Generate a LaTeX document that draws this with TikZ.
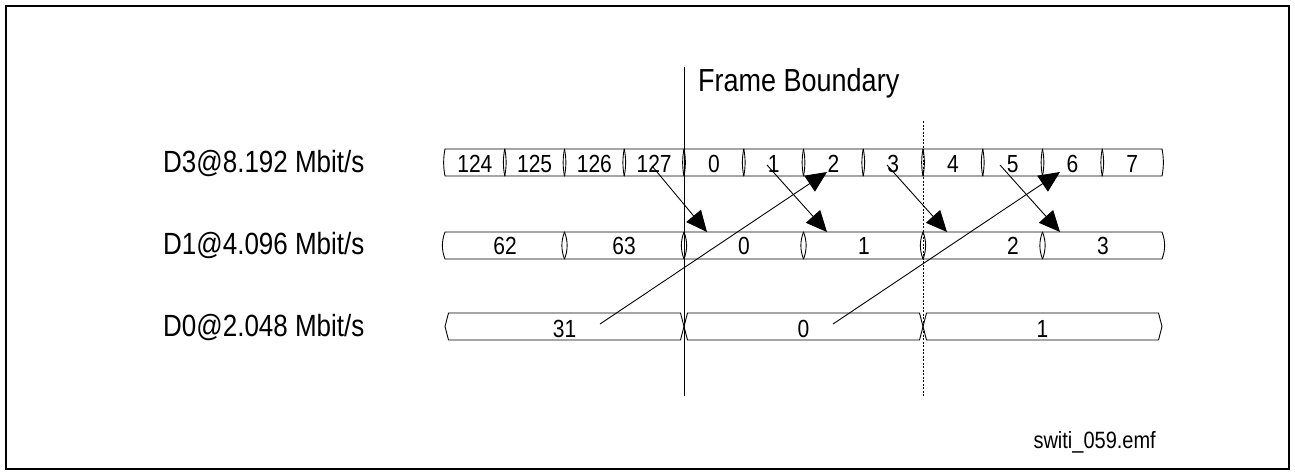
\documentclass[tikz,border=0pt]{standalone}
\usepackage{fontspec}
\setmainfont{Liberation Sans}
\usetikzlibrary{arrows.meta}
\newcommand{\tallt}[1]{\scalebox{1}[1.18]{#1}}
\begin{document}
\begin{tikzpicture}[x=1pt,y=-1pt]
\tikzset{
  frame/.style={line width=2.5pt},
  cell/.style={line width=0.9pt},
  rowlabel/.style={font=\fontsize{26}{30}\selectfont, anchor=base west, inner sep=0pt},
  cellnum/.style={font=\fontsize{21}{24}\selectfont, anchor=base, inner sep=0pt},
  titletext/.style={font=\fontsize{27}{30}\selectfont, anchor=base west, inner sep=0pt},
  filetext/.style={font=\fontsize{20}{22}\selectfont, anchor=base east, inner sep=0pt},
  arr/.style={line width=0.9pt, -{Triangle[length=21pt,width=19pt]}},
  bline/.style={line width=1pt},
  dline/.style={line width=0.9pt, dash pattern=on 2pt off 1.5pt},
}
\useasboundingbox (0,0) rectangle (1295,475);
\draw[frame] (6,6) rectangle (1289,469);

% row labels
\node[rowlabel] (l3) at (163,172) {\tallt{D3@8.192 Mbit/s}};
\node[rowlabel] (l1) at (163,254) {\tallt{D1@4.096 Mbit/s}};
\node[rowlabel] (l0) at (163,336) {\tallt{D0@2.048 Mbit/s}};

% D3 cells
\foreach \i/\lab in {0/124,1/125,2/126,3/127,4/0,5/1,6/2,7/3,8/4,9/5,10/6,11/7} {
  \pgfmathsetmacro\xa{445+59.75*\i}
  \pgfmathsetmacro\xb{\xa+59.75}
  \draw[cell] (\xa,149) -- (\xb,149) .. controls (\xb+1.8,158) and (\xb+1.8,167) .. (\xb,176) -- (\xa,176) .. controls (\xa-1.8,167) and (\xa-1.8,158) .. (\xa,149) -- cycle;
  \node[cellnum] (d3-\i) at ({(\xa+\xb)/2},172) {\tallt{\lab}};
}

% D1 cells
\foreach \i/\lab/\tx in {0/62/505,1/63/624,2/0/744,3/1/864,4/2/1013,5/3/1103} {
  \pgfmathsetmacro\xa{445+119.5*\i}
  \pgfmathsetmacro\xb{\xa+119.5}
  \draw[cell] (\xa,232) -- (\xb,232) .. controls (\xb+3.5,241) and (\xb+3.5,250) .. (\xb,259) -- (\xa,259) .. controls (\xa-3.5,250) and (\xa-3.5,241) .. (\xa,232) -- cycle;
  \node[cellnum] (d1-\i) at (\tx,254) {\tallt{\lab}};
}

% D0 cells
\foreach \i/\lab in {0/31,1/0,2/1} {
  \pgfmathsetmacro\xa{445+239*\i}
  \pgfmathsetmacro\xb{\xa+239}
  \draw[cell] (\xa+3.5,313) -- (\xb-3.5,313) -- (\xb,326.5) -- (\xb-3.5,340) -- (\xa+3.5,340) -- (\xa,326.5) -- cycle;
  \node[cellnum] (d0-\i) at ({(\xa+\xb)/2},337) {\tallt{\lab}};
}

% boundaries
\draw[bline] (684,67) -- (684,396);
\draw[dline] (923,121) -- (923,396);
\node[titletext] (fb) at (698,91) {\tallt{Frame Boundary}};
\node[filetext] (fn) at (1156,448) {\tallt{switi\_059.emf}};

% arrow end points
\coordinate (s1) at (652,166);
\coordinate (t1) at (707,232);
\coordinate (s2) at (767,165);
\coordinate (t2) at (827,232);
\coordinate (s3) at (887,165);
\coordinate (t3) at (947,232);
\coordinate (s4) at (1000,165);
\coordinate (t4) at (1060,232);
\coordinate (s5) at (600,324);
\coordinate (t5) at (827,172);
\coordinate (s6) at (833,324);
\coordinate (t6) at (1060,172);

\draw[arr] (s1) -- (t1);
\draw[arr] (s2) -- (t2);
\draw[arr] (s3) -- (t3);
\draw[arr] (s4) -- (t4);
\draw[arr] (s5) -- (t5);
\draw[arr] (s6) -- (t6);
\end{tikzpicture}
\end{document}
